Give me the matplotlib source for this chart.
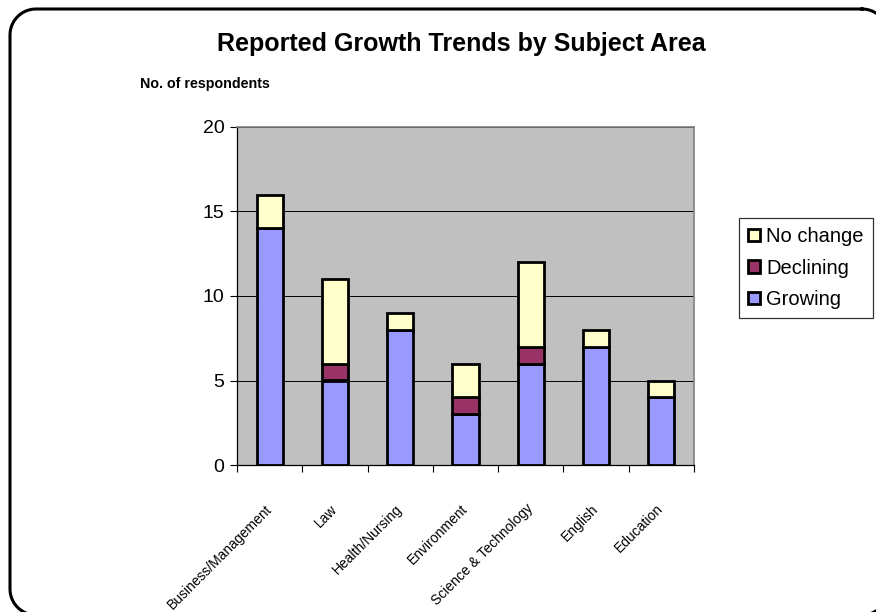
import matplotlib
matplotlib.use("Agg")
import matplotlib.pyplot as plt
import numpy as np
from matplotlib.lines import Line2D

plt.rcParams['font.family'] = ['Liberation Sans', 'DejaVu Sans']

subjects = ["Business/Management", "Law", "Health/Nursing", "Environment",
            "Science & Technology", "English", "Education"]
growing = [14, 5, 8, 3, 6, 7, 4]
declining = [0, 1, 0, 1, 1, 0, 0]
no_change = [2, 5, 1, 2, 5, 1, 1]

W, H = 876, 612
fig = plt.figure(figsize=(W / 100, H / 100), dpi=100)
fig.patch.set_facecolor("white")


def rounded_frame(left, top, right, bottom, r):
    # outline of a rounded rectangle, pixel coords measured from top-left
    pts = []
    corners = [(right - r, top + r, -90, 0), (right - r, bottom - r, 0, 90),
               (left + r, bottom - r, 90, 180), (left + r, top + r, 180, 270)]
    for cx, cy, a0, a1 in corners:
        t = np.radians(np.linspace(a0, a1, 20))
        pts += list(zip(cx + r * np.cos(t), cy + r * np.sin(t)))
    pts.append(pts[0])
    px = np.array([p[0] for p in pts]) / W
    py = 1 - np.array([p[1] for p in pts]) / H
    return px, py


fx, fy = rounded_frame(10, 9, 888, 615, 26)
fig.add_artist(Line2D(fx, fy, color="black", linewidth=2.2, transform=fig.transFigure))

ax = fig.add_axes([237 / W, 1 - 465 / H, 457 / W, 338 / H])
ax.set_facecolor("#C0C0C0")

x = np.arange(len(subjects))
w = 0.4
g = np.array(growing)
d = np.array(declining)
n = np.array(no_change)

b1 = ax.bar(x, g, w, color="#9999FF", edgecolor="black", linewidth=2, label="Growing", zorder=3)
b2 = ax.bar(x, d, w, bottom=g, color="#993366", edgecolor="black", linewidth=2, label="Declining", zorder=3)
b3 = ax.bar(x, n, w, bottom=g + d, color="#FFFFCC", edgecolor="black", linewidth=2, label="No change", zorder=3)

ax.set_xlim(-0.5, len(subjects) - 0.5)
ax.set_ylim(0, 20)
ax.set_yticks([0, 5, 10, 15, 20])
ax.tick_params(axis="y", labelsize=14, direction="out", length=5, width=0.8, pad=4)
ax.yaxis.grid(True, color="black", linewidth=0.7, zorder=1)
ax.set_axisbelow(True)

# category labels at centres, tick marks between categories
ax.set_xticks(x)
ax.set_xticklabels(subjects, rotation=45, ha="right", va="center",
                   rotation_mode="anchor", fontsize=10)
ax.tick_params(axis="x", length=0, pad=30)
ax.set_xticks(np.arange(-0.5, len(subjects), 1), minor=True)
ax.tick_params(axis="x", which="minor", length=5, width=0.8, direction="out")

for side in ["top", "right"]:
    ax.spines[side].set_color("#808080")
    ax.spines[side].set_linewidth(1.2)
for side in ["left", "bottom"]:
    ax.spines[side].set_color("black")
    ax.spines[side].set_linewidth(0.9)

fig.text(461 / W, 1 - 44 / H, "Reported Growth Trends by Subject Area",
         ha="center", va="center", fontsize=18, fontweight="bold")
fig.text(140 / W, 1 - 84 / H, "No. of respondents",
         ha="left", va="center", fontsize=10.3, fontweight="bold")

leg = fig.legend(handles=[b3, b2, b1], labels=["No change", "Declining", "Growing"],
                 loc="upper left", bbox_to_anchor=(739 / W, 1 - 218 / H),
                 fontsize=14.5, frameon=True, fancybox=False, handlelength=0.6,
                 handleheight=0.6, handletextpad=0.3, borderpad=0.45,
                 labelspacing=0.62, borderaxespad=0)
leg.get_frame().set_edgecolor("black")
leg.get_frame().set_linewidth(0.9)

fig.savefig("out.png", dpi=100)
